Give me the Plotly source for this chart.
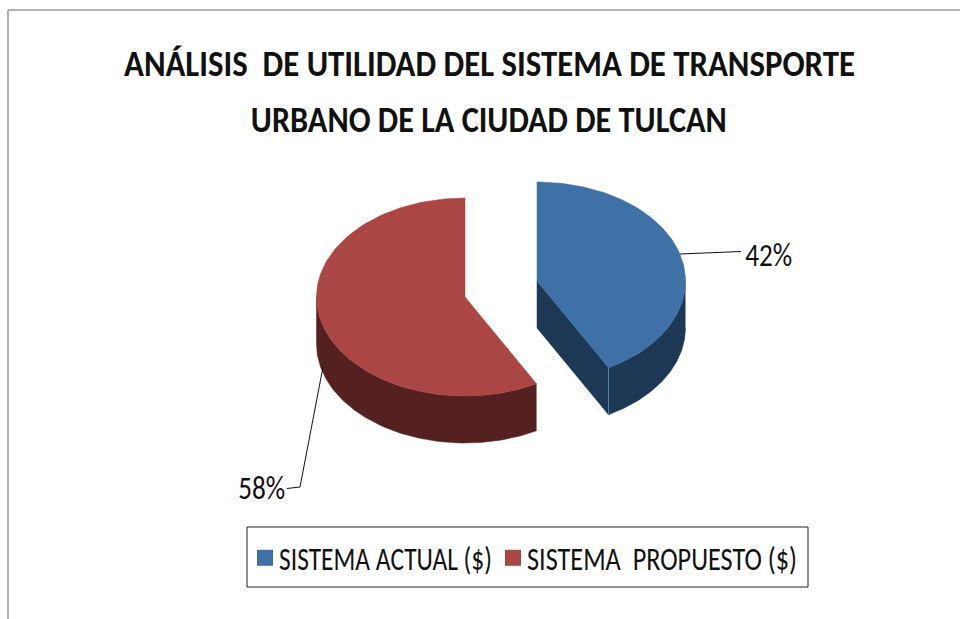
import json
import numpy as np
import plotly.graph_objects as go

# ---- data ----
categories = ["SISTEMA ACTUAL ($)", "SISTEMA  PROPUESTO ($)"]
values = [42, 58]
labels = ["42%", "58%"]
top_colors = ["#3E71A6", "#AA4643"]
side_colors = ["#1D3855", "#542020"]
title_lines = ["ANÁLISIS  DE UTILIDAD DEL SISTEMA DE TRANSPORTE", "URBANO DE LA CIUDAD DE TULCAN"]

# ---- geometry (pixel-like axes) ----
W, H = 960, 619
RX, RY, DEPTH = 148.5, 99, 47
centers = [(537, 281), (465, 297)]
FONT = "Carlito"

# rendered widths of the tall, narrow text in the reference
text_widths = {
    title_lines[0]: 731, title_lines[1]: 476,
    labels[0]: 47, labels[1]: 47,
    categories[0]: 213, categories[1]: 270,
}

fractions = np.array(values) / sum(values)
starts = np.concatenate([[0], np.cumsum(fractions)[:-1]]) * 2 * np.pi
ends = np.cumsum(fractions) * 2 * np.pi


def arc(c, a, b, n=120, dy=0):
    t = np.linspace(a, b, n)
    return c[0] + RX * np.sin(t), c[1] - RY * np.cos(t) + dy


fig = go.Figure()

# extruded side faces
for i, c in enumerate(centers):
    a, b = starts[i], ends[i]
    lo, hi = max(a, np.pi / 2), min(b, 3 * np.pi / 2)
    xt, yt = arc(c, lo, hi)
    xb, yb = arc(c, lo, hi, dy=DEPTH)
    xs = np.concatenate([xt, xb[::-1]])
    ys = np.concatenate([yt, yb[::-1]])
    fig.add_trace(go.Scatter(x=xs, y=ys, mode="lines", fill="toself", fillcolor=side_colors[i],
                             line=dict(color=side_colors[i], width=0.5), showlegend=False, hoverinfo="skip"))
    if i == 0:  # cut face visible on the first slice
        xe, ye = arc(c, b, b, n=1)
        xf = [c[0], c[0], xe[0], xe[0], c[0]]
        yf = [c[1], c[1] + DEPTH, ye[0] + DEPTH, ye[0], c[1]]
        fig.add_trace(go.Scatter(x=xf, y=yf, mode="lines", fill="toself", fillcolor=side_colors[i],
                                 line=dict(color=side_colors[i], width=0.5), showlegend=False, hoverinfo="skip"))
        fig.add_trace(go.Scatter(x=[xe[0], xe[0]], y=[ye[0], ye[0] + DEPTH], mode="lines",
                                 line=dict(color="#5B7FA6", width=1), showlegend=False, hoverinfo="skip"))

# top faces
for i, c in enumerate(centers):
    xa, ya = arc(c, starts[i], ends[i])
    fig.add_trace(go.Scatter(x=np.concatenate([[c[0]], xa, [c[0]]]), y=np.concatenate([[c[1]], ya, [c[1]]]),
                             mode="lines", fill="toself", fillcolor=top_colors[i],
                             line=dict(color=top_colors[i], width=0.5), showlegend=False,
                             name=categories[i], hoverinfo="skip"))

# leader lines
fig.add_trace(go.Scatter(x=[680, 741], y=[254, 251.5], mode="lines", line=dict(color="#111", width=1),
                         showlegend=False, hoverinfo="skip"))
fig.add_trace(go.Scatter(x=[323, 300, 287], y=[367, 487, 488.5], mode="lines", line=dict(color="#111", width=1),
                         showlegend=False, hoverinfo="skip"))

# legend entries
for i, cat in enumerate(categories):
    fig.add_trace(go.Scatter(x=[None], y=[None], mode="markers", name=cat,
                             marker=dict(symbol="square", size=16, color=top_colors[i])))

fig.add_annotation(x=768.5, y=255, text=labels[0], showarrow=False, font=dict(family=FONT, size=32, color="#111"))
fig.add_annotation(x=261.5, y=488, text=labels[1], showarrow=False, font=dict(family=FONT, size=32, color="#111"))
fig.add_annotation(x=489, y=119, text=title_lines[1], showarrow=False,
                   font=dict(family=FONT, size=37, color="#111", weight="bold"))

fig.update_layout(
    width=W, height=H, autosize=False,
    margin=dict(l=0, r=0, t=0, b=0),
    paper_bgcolor="white", plot_bgcolor="white",
    title=dict(text=title_lines[0], x=489.5 / W, xanchor="center", y=1 - 63 / H, yanchor="middle",
               font=dict(family=FONT, size=37, color="#111", weight="bold")),
    xaxis=dict(range=[0, W], visible=False, fixedrange=True),
    yaxis=dict(range=[H, 0], visible=False, fixedrange=True),
    showlegend=True,
    legend=dict(orientation="h", x=245 / W, y=1 - 558 / H, xanchor="left", yanchor="middle",
                bgcolor="rgba(0,0,0,0)", font=dict(family=FONT, size=32, color="#111"),
                itemwidth=30, itemsizing="trace", entrywidth=203, entrywidthmode="pixels"),
    shapes=[
        dict(type="rect", xref="paper", yref="paper", x0=247 / W, x1=808 / W, y0=1 - 527 / H, y1=1 - 587 / H,
             line=dict(color="#222", width=1), fillcolor="rgba(0,0,0,0)"),
        dict(type="line", xref="paper", yref="paper", x0=8 / W, x1=1, y0=1 - 10 / H, y1=1 - 10 / H,
             line=dict(color="#999", width=1.5)),
        dict(type="line", xref="paper", yref="paper", x0=8 / W, x1=8 / W, y0=1 - 10 / H, y1=0,
             line=dict(color="#999", width=1.5)),
    ],
)

post = """
document.body.style.margin = '0';
var widths = %s;
document.querySelectorAll('.gtitle, .annotation-text, .legendtext').forEach(function (el) {
  var w = widths[el.textContent];
  if (!w) { w = widths[el.textContent.replace(/\\u00a0/g, ' ')]; }
  if (w) {
    el.setAttribute('textLength', w);
    el.setAttribute('lengthAdjust', 'spacingAndGlyphs');
  }
  if (el.classList.contains('legendtext')) {
    el.setAttribute('x', parseFloat(el.getAttribute('x')) - 6);
  }
});
document.querySelectorAll('.legend .scrollbox, .legend .groups, .legend .traces').forEach(function (el) {
  el.removeAttribute('clip-path');
  el.style.clipPath = 'none';
});
""" % json.dumps(text_widths)
fig.write_html("out.html", config=dict(displayModeBar=False), post_script=post)
